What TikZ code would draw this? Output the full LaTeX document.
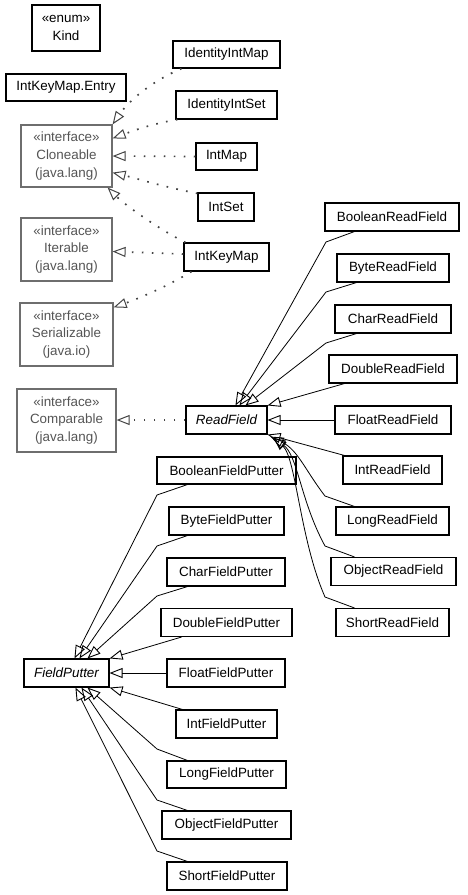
\documentclass[tikz,border=0pt]{standalone}
\usepackage{fontspec}
\setmainfont{Liberation Sans}
\usetikzlibrary{arrows.meta}
\definecolor{ifgray}{HTML}{6E6E6E}
\definecolor{iftxt}{HTML}{555555}
\definecolor{dotgray}{HTML}{444444}
\begin{document}
\begin{tikzpicture}[x=1pt,y=-1pt,
  lbl/.style={font=\fontsize{13.4}{17.8}\selectfont, align=center, inner sep=0pt},
  cls/.style={lbl, draw=black, line width=1.1pt, minimum height=28pt},
  iface/.style={lbl, draw=ifgray, line width=1.2pt, text=iftxt, minimum height=63pt},
  gen/.style={draw=black, line width=0.8pt, -{Triangle[open,length=13pt,width=10pt,line width=0.9pt]}},
  real/.style={draw=dotgray, line width=1.7pt, dash pattern=on 1.7pt off 8.3pt,
    -{Triangle[open,length=13pt,width=10pt,line width=1pt,sep=0pt]}}]
\useasboundingbox (0,0) rectangle (467,895);

% top-left
\node[cls, minimum width=68pt, minimum height=46pt] (kind) at (66,28) {«enum»\\Kind};
\node[cls, minimum width=120pt, minimum height=27pt] (entry) at (66,87.5) {IntKeyMap.Entry};

% interfaces
\node[iface, minimum width=91pt, minimum height=62pt] (clone) at (66.5,156) {«interface»\\Cloneable\\(java.lang)};
\node[iface, minimum width=91pt] (iter) at (66.5,249.5) {«interface»\\Iterable\\(java.lang)};
\node[iface, minimum width=93pt] (ser) at (66.5,334.5) {«interface»\\Serializable\\(java.io)};
\node[iface, minimum width=99pt] (comp) at (66.5,420.5) {«interface»\\Comparable\\(java.lang)};

% maps and sets
\node[cls, minimum width=107pt, minimum height=27pt] (iim) at (226.5,54.5) {IdentityIntMap};
\node[cls, minimum width=101pt] (iis) at (226.5,105) {IdentityIntSet};
\node[cls, minimum width=61pt, minimum height=27pt] (imap) at (226.5,156.5) {IntMap};
\node[cls, minimum width=56pt] (iset) at (226,207) {IntSet};
\node[cls, minimum width=85pt] (ikm) at (226.5,257) {IntKeyMap};

% ReadField
\node[cls, minimum width=81pt, font=\fontsize{13.4}{17.8}\selectfont\itshape] (rf) at (226.5,420) {ReadField};
\node[cls, minimum width=134pt] (brf) at (392,217) {BooleanReadField};
\node[cls, minimum width=112pt] (byrf) at (393,268) {ByteReadField};
\node[cls, minimum width=116pt] (crf) at (393,319) {CharReadField};
\node[cls, minimum width=128pt] (drf) at (393,369) {DoubleReadField};
\node[cls, minimum width=116pt] (frf) at (393,420) {FloatReadField};
\node[cls, minimum width=99pt] (irf) at (392.5,470) {IntReadField};
\node[cls, minimum width=113pt] (lrf) at (392.5,521) {LongReadField};
\node[cls, minimum width=125pt] (orf) at (393.5,571.5) {ObjectReadField};
\node[cls, minimum width=113pt] (srf) at (392.5,622.5) {ShortReadField};

% FieldPutter
\node[cls, minimum width=85pt, font=\fontsize{13.4}{17.8}\selectfont\itshape] (fp) at (66.5,673) {FieldPutter};
\node[cls, minimum width=139pt, minimum height=27pt] (bfp) at (226.5,470.5) {BooleanFieldPutter};
\node[cls, minimum width=115pt] (byfp) at (226.5,521) {ByteFieldPutter};
\node[cls, minimum width=118pt] (cfp) at (226,572) {CharFieldPutter};
\node[cls, minimum width=131pt] (dfp) at (226.5,622.5) {DoubleFieldPutter};
\node[cls, minimum width=118pt] (ffp) at (226,673) {FloatFieldPutter};
\node[cls, minimum width=101pt] (ifp) at (226.5,724) {IntFieldPutter};
\node[cls, minimum width=119pt, minimum height=27pt] (lfp) at (226.5,774.5) {LongFieldPutter};
\node[cls, minimum width=129pt] (ofp) at (226.5,825) {ObjectFieldPutter};
\node[cls, minimum width=120pt] (sfp) at (227,876) {ShortFieldPutter};

% realizations (dotted)
\draw[real] ([xshift=9pt]iim.south west) .. controls (150,82) and (128,102) .. (clone.north east);
\draw[real] ([xshift=2pt]iis.south west) .. controls (150,124) and (130,132) .. ([yshift=-14pt]clone.north east);
\draw[real] (imap.west) -- (clone.east);
\draw[real] ([yshift=-1pt]iset.north west) .. controls (160,186) and (135,178) .. ([yshift=15pt]clone.south east);
\draw[real] ([xshift=2pt]ikm.north west) .. controls (160,230) and (125,205) .. ([xshift=-5pt]clone.south east);
\draw[real] ([yshift=3pt]ikm.west) -- ([yshift=-2pt]iter.east);
\draw[real] ([xshift=8pt]ikm.south west) .. controls (170,285) and (140,298) .. ([yshift=-5pt]ser.north east);
\draw[real] (rf.west) -- ([yshift=0.5pt]comp.east);

% ReadField generalizations
\draw[gen] ([xshift=30pt]brf.south west) -- (326,242) -- ([xshift=50pt]rf.north west);
\draw[gen] ([xshift=20pt]byrf.south west) -- (326,292) -- ([xshift=54pt]rf.north west);
\draw[gen] ([xshift=22pt]crf.south west) -- (326,343) -- ([xshift=60pt]rf.north west);
\draw[gen] ([xshift=16pt]drf.south west) -- (rf.north east);
\draw[gen] (frf.west) -- (rf.east);
\draw[gen] ([xshift=2pt]irf.north west) -- (rf.south east);
\draw[gen] ([xshift=19pt]lrf.north west) -- (325,496) .. controls (305,470) and (298,450) .. ([xshift=3pt,yshift=-2pt]rf.south east);
\draw[gen] ([xshift=24pt]orf.north west) -- (325,546) .. controls (300,500) and (298,455) .. ([xshift=5pt,yshift=-3pt]rf.south east);
\draw[gen] ([xshift=19pt]srf.north west) -- (325,597) .. controls (300,540) and (296,458) .. ([xshift=6pt,yshift=-3pt]rf.south east);

% FieldPutter generalizations
\draw[gen] ([xshift=31pt]bfp.south west) -- (157,495) -- ([xshift=51pt]fp.north west);
\draw[gen] ([xshift=19pt]byfp.south west) -- (157,546) -- ([xshift=56pt]fp.north west);
\draw[gen] ([xshift=21pt]cfp.south west) -- (157,596) -- ([xshift=64pt]fp.north west);
\draw[gen] ([xshift=21pt]dfp.south west) -- (fp.north east);
\draw[gen] (ffp.west) -- (fp.east);
\draw[gen] ([xshift=7pt]ifp.north west) -- (fp.south east);
\draw[gen] ([xshift=21pt]lfp.north west) -- (157,749) -- ([xshift=64pt]fp.south west);
\draw[gen] ([xshift=26pt]ofp.north west) -- (157,800) -- ([xshift=58pt]fp.south west);
\draw[gen] ([xshift=21pt]sfp.north west) -- (157,851) -- ([xshift=52pt]fp.south west);
\end{tikzpicture}
\end{document}
